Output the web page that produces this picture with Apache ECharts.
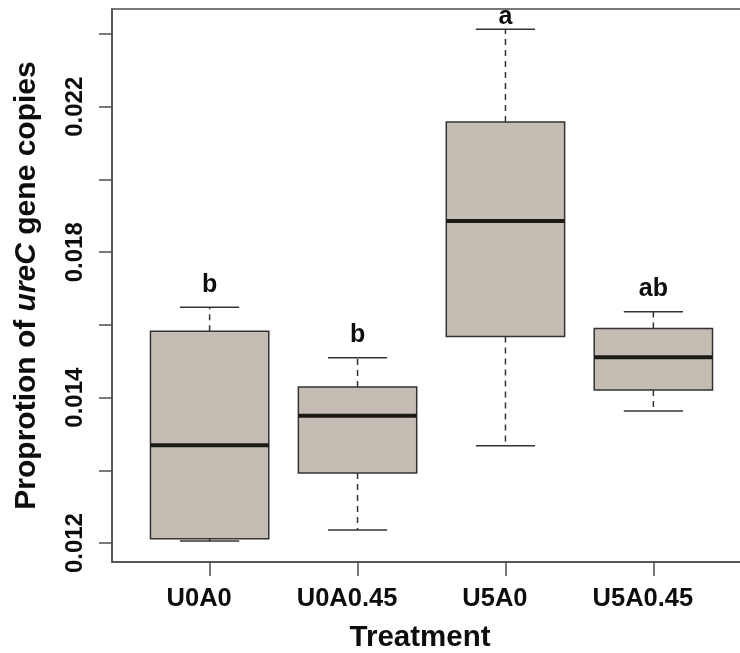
<!DOCTYPE html>
<html><head><meta charset="utf-8">
<script src="https://cdn.jsdelivr.net/npm/echarts@6/dist/echarts.min.js"></script>
<style>html,body{margin:0;padding:0;background:#fff}#c{width:740px;height:653px}</style>
</head><body><div id="c"></div>
<script>
// ---- data ----
const categories = ['U0A0', 'U0A0.45', 'U5A0', 'U5A0.45'];
const whiskerLow  = [0.01006, 0.01036, 0.01268, 0.01363];
const q1          = [0.01012, 0.01193, 0.01568, 0.01421];
const median      = [0.01269, 0.01350, 0.01886, 0.01511];
const q3          = [0.01583, 0.01429, 0.02158, 0.01590];
const whiskerHigh = [0.01649, 0.01510, 0.02413, 0.01636];
const letters = ['b', 'b', 'a', 'ab'];
const yTickValues  = [0.010, 0.012, 0.014, 0.016, 0.018, 0.020, 0.022, 0.024];
const yLabelValues = [0.010, 0.014, 0.018, 0.022];
const yTickLabels  = ['0.012', '0.014', '0.018', '0.022'];

const FONT = 'Liberation Sans, Arial, sans-serif';
const AXIS_COLOR = '#4d4d4d';
const TEXT_COLOR = '#0d0d0d';
const boxData = categories.map((c, i) => [i + 1, whiskerLow[i], q1[i], median[i], q3[i], whiskerHigh[i]]);
const letterData = categories.map((c, i) => ({
  value: [i + 1, whiskerHigh[i]],
  label: { distance: letters[i] === 'a' ? 0 : 10 }
}));

function renderBox(params, api) {
  const x = api.value(0);
  const lo = api.value(1), a = api.value(2), m = api.value(3), b = api.value(4), hi = api.value(5);
  const half = api.size([0.4, 0])[0];
  const capHalf = api.size([0.2, 0])[0];
  const P = v => api.coord([x, v]);
  const pl = P(lo), pa = P(a), pm = P(m), pb = P(b), ph = P(hi);
  const cx = pm[0];
  const stroke = '#333';
  return {
    type: 'group',
    children: [
      { type: 'line', shape: { x1: cx, y1: pb[1], x2: cx, y2: ph[1] }, style: { stroke, lineWidth: 1.5, lineDash: [6, 5] } },
      { type: 'line', shape: { x1: cx, y1: pa[1], x2: cx, y2: pl[1] }, style: { stroke, lineWidth: 1.5, lineDash: [6, 5] } },
      { type: 'line', shape: { x1: cx - capHalf, y1: ph[1], x2: cx + capHalf, y2: ph[1] }, style: { stroke, lineWidth: 1.5 } },
      { type: 'line', shape: { x1: cx - capHalf, y1: pl[1], x2: cx + capHalf, y2: pl[1] }, style: { stroke, lineWidth: 1.5 } },
      { type: 'rect', shape: { x: cx - half, y: pb[1], width: 2 * half, height: pa[1] - pb[1] }, style: { fill: '#c5bdb4', stroke, lineWidth: 1.5 } },
      { type: 'line', shape: { x1: cx - half, y1: pm[1], x2: cx + half, y2: pm[1] }, style: { stroke: '#1b1a14', lineWidth: 4 } }
    ]
  };
}

const chart = echarts.init(document.getElementById('c'), null, { renderer: 'canvas' });
chart.setOption({
  backgroundColor: '#fff',
  animation: false,
  grid: { left: 112, width: 639, top: 9, bottom: 91, containLabel: false, outerBoundsMode: 'none',
    show: true, borderColor: AXIS_COLOR, borderWidth: 1.5 },
  xAxis: {
    type: 'value', min: 0.34, max: 4.66,
    splitLine: { show: false },
    axisLine: { show: true, lineStyle: { color: AXIS_COLOR, width: 1.5 } },
    axisTick: { show: true, customValues: [1, 2, 3, 4], length: 14, lineStyle: { color: AXIS_COLOR, width: 1.5 } },
    axisLabel: { customValues: [1, 2, 3, 4], formatter: v => categories[Math.round(v) - 1], margin: 24,
      padding: [0, 21, 0, 0],
      fontSize: 25.5, fontWeight: 'bold', color: TEXT_COLOR, fontFamily: FONT },
    name: 'Treatment', nameLocation: 'middle', nameGap: 61,
    nameTextStyle: { fontSize: 29.5, fontWeight: 'bold', color: TEXT_COLOR, fontFamily: FONT, padding: [0, 23, 0, 0] }
  },
  yAxis: {
    type: 'value', min: 0.00948, max: 0.02469,
    splitLine: { show: false },
    axisLine: { show: true, lineStyle: { color: AXIS_COLOR, width: 1.5 } },
    axisTick: { show: true, customValues: yTickValues, length: 13, lineStyle: { color: AXIS_COLOR, width: 1.5 } },
    axisLabel: { customValues: yLabelValues, rotate: 90, margin: 25,
      formatter: v => { const k = yLabelValues.findIndex(t => Math.abs(t - v) < 1e-9); return k >= 0 ? yTickLabels[k] : ''; },
      fontSize: 24, fontWeight: 'bold', color: TEXT_COLOR, fontFamily: FONT },
    name: 'Proprotion of {i|ureC} gene copies', nameLocation: 'middle', nameGap: 70,
    nameTextStyle: { fontSize: 30, fontWeight: 'bold', color: TEXT_COLOR, fontFamily: FONT,
      rich: { i: { fontSize: 30, fontWeight: 'bold', fontStyle: 'italic', color: TEXT_COLOR, fontFamily: FONT } } }
  },
  series: [
    { type: 'custom', renderItem: renderBox, data: boxData, encode: { x: 0, y: [1, 2, 3, 4, 5] }, z: 2 },
    { type: 'scatter', data: letterData, symbolSize: 0, z: 3, itemStyle: { opacity: 1 },
      label: { show: true, position: 'top', formatter: p => letters[p.dataIndex], opacity: 1,
        fontSize: 25, fontWeight: 'bold', color: TEXT_COLOR, fontFamily: FONT } }
  ]
});
</script></body></html>
